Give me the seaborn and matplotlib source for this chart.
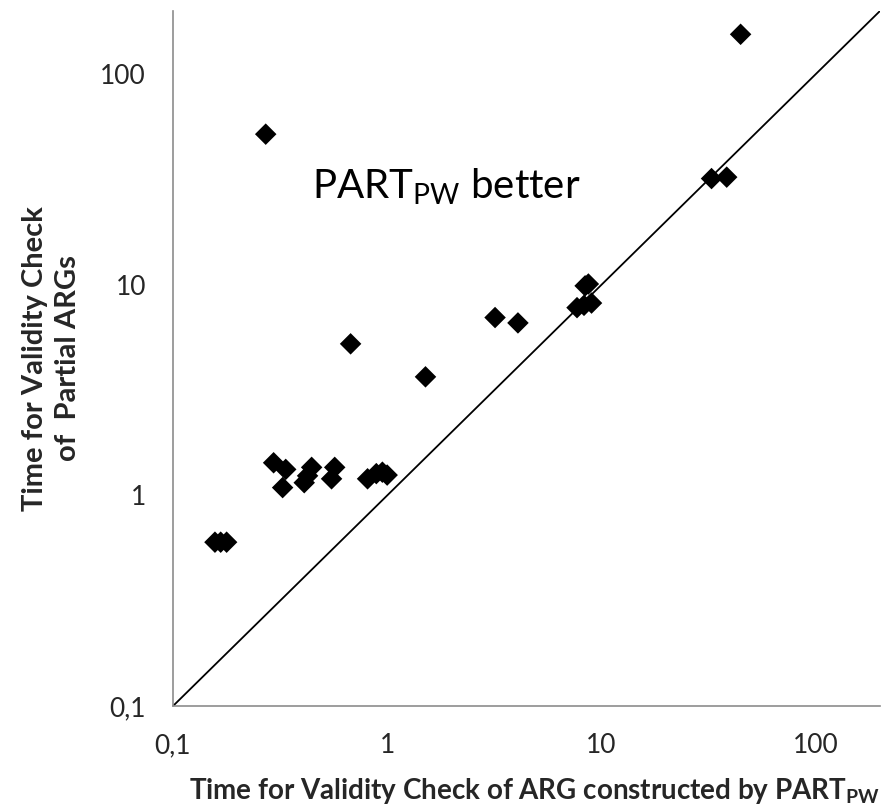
import matplotlib
matplotlib.use("Agg")
import matplotlib.pyplot as plt
from matplotlib.ticker import FixedLocator, FixedFormatter, NullLocator
import pandas as pd
import seaborn as sns

# timings (seconds)
part_pw = [0.157, 0.167, 0.178, 0.295, 0.336, 0.325, 0.444, 0.425, 0.41,
           0.569, 0.55, 0.81, 0.89, 0.95, 1.0, 0.675, 1.51, 3.19, 4.08,
           8.4, 8.7, 7.7, 8.3, 9.0, 32.7, 38.5, 44.7, 0.271]
partial = [0.6, 0.6, 0.6, 1.43, 1.33, 1.09, 1.36, 1.24, 1.15,
           1.36, 1.2, 1.2, 1.27, 1.29, 1.25, 5.25, 3.66, 7.0, 6.6,
           9.9, 10.1, 7.8, 8.0, 8.2, 32.0, 32.5, 155.0, 52.0]
diag = [0.1, 200]
tick_vals = [0.1, 1, 10, 100]
tick_labels = ["0,1", "1", "10", "100"]

df = pd.DataFrame({"pw": part_pw, "partial": partial})

sns.set_style("white")
plt.rcParams["font.family"] = ["Lato", "DejaVu Sans"]
plt.rcParams["mathtext.fontset"] = "custom"
plt.rcParams["mathtext.rm"] = "Lato"
plt.rcParams["mathtext.bf"] = "Lato:bold"

fig = plt.figure(figsize=(8.94, 8.08), dpi=100)
ax = fig.add_axes([0.1935, 0.1262, 0.7908, 0.8602])

ax.plot(diag, diag, color="black", lw=1.3, zorder=1)
sns.scatterplot(data=df, x="pw", y="partial", marker="D", s=120,
                color="black", edgecolor="none", ax=ax, zorder=2)

ax.set_xscale("log")
ax.set_yscale("log")
ax.set_xlim(0.1, 200)
ax.set_ylim(0.1, 200)
for axis in (ax.xaxis, ax.yaxis):
    axis.set_major_locator(FixedLocator(tick_vals))
    axis.set_major_formatter(FixedFormatter(tick_labels))
    axis.set_minor_locator(NullLocator())

for s in ("top", "right"):
    ax.spines[s].set_visible(False)
for s in ("left", "bottom"):
    ax.spines[s].set_color("#8c8c8c")
    ax.spines[s].set_linewidth(1.2)
ax.tick_params(axis="both", which="major", direction="out", length=6.5,
               width=1.2, color="#8c8c8c", labelsize=19, pad=13)

ax.set_xlabel(r"Time for Validity Check of ARG constructed by PART$_{\mathbf{PW}}$",
              fontsize=20, fontweight="bold", va="top")
ax.xaxis.set_label_coords(0.511, -0.101)
ax.set_ylabel("Time for Validity Check\nof  Partial ARGs",
              fontsize=21, fontweight="bold", linespacing=1.35)
ax.yaxis.set_label_coords(-0.13, 0.5)

ax.text(0.197, 0.731, r"PART$_{\mathrm{PW}}$ better", transform=ax.transAxes,
        fontsize=29, color="black", va="baseline")

plt.savefig("out.png", dpi=100)
